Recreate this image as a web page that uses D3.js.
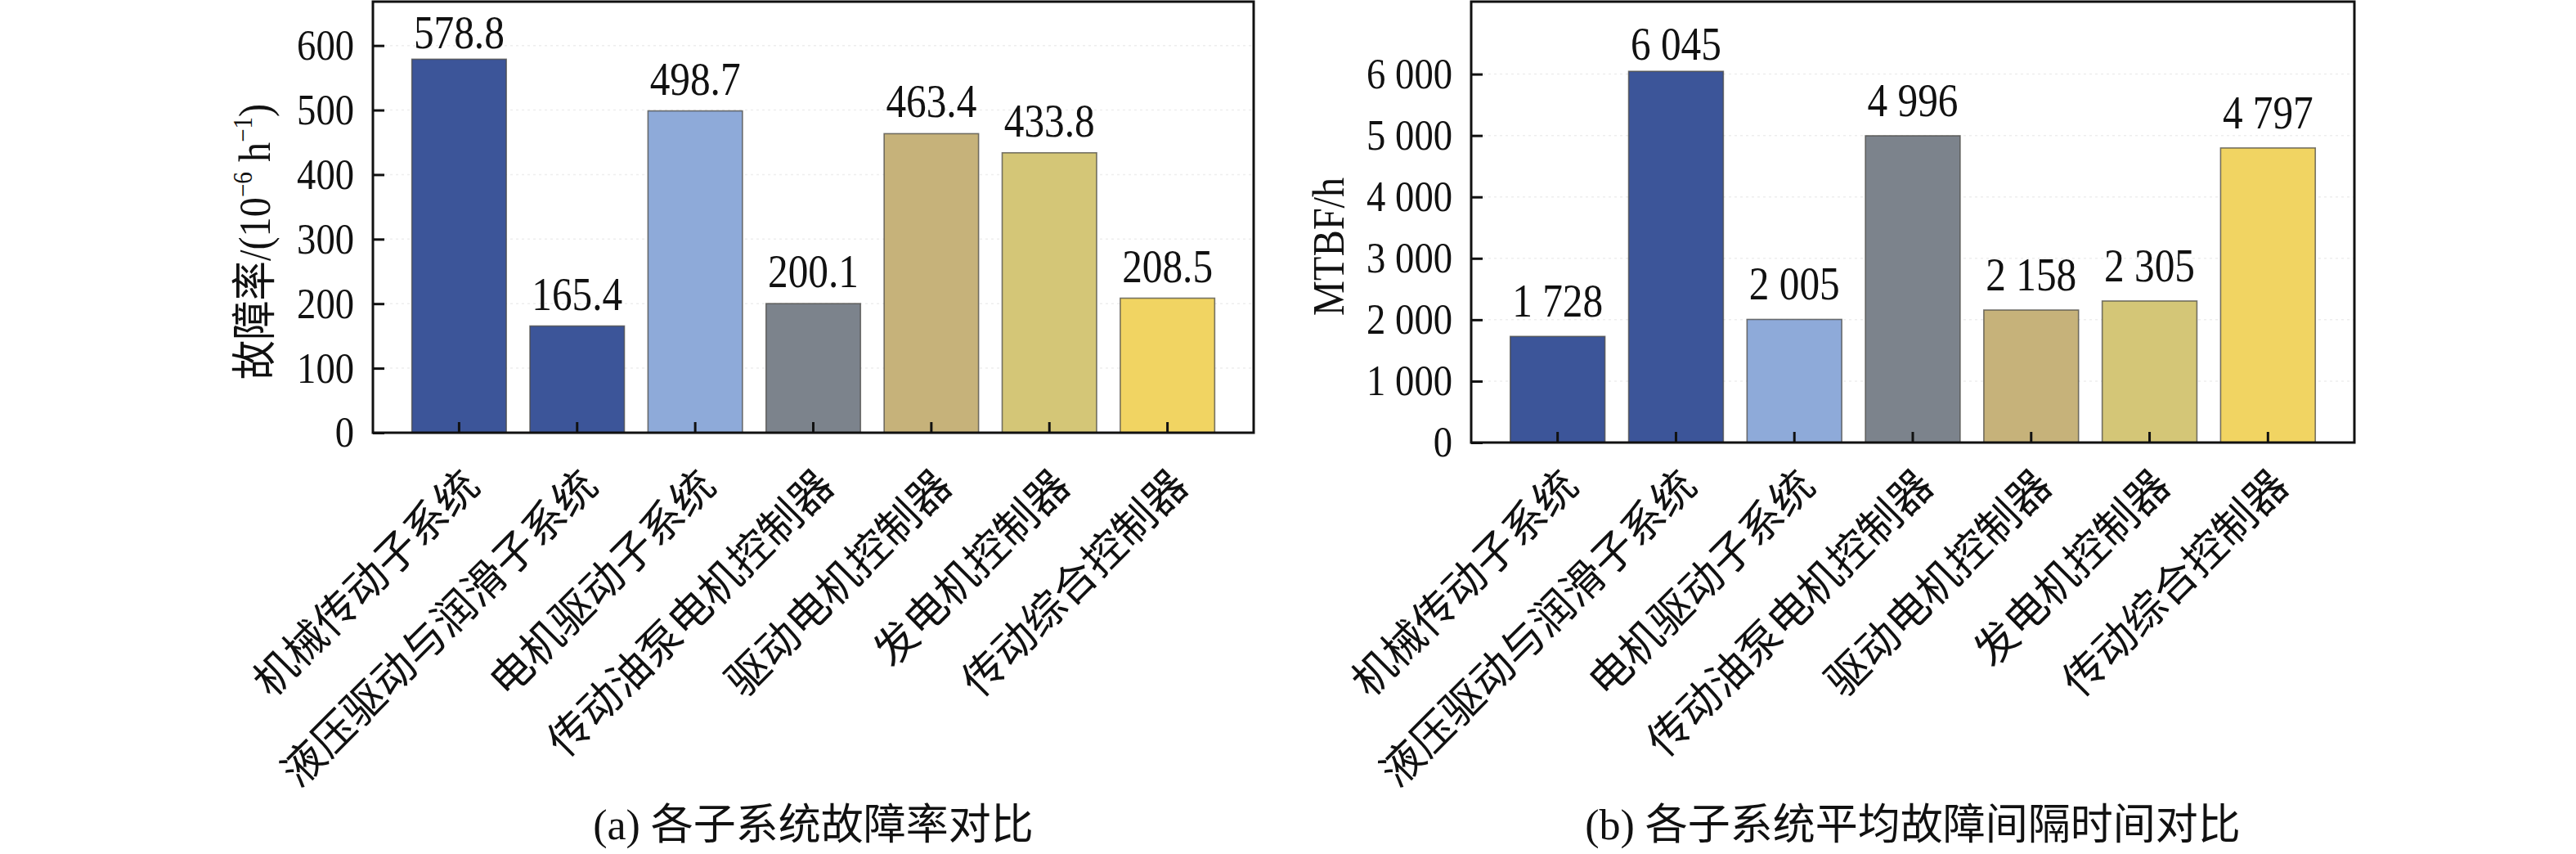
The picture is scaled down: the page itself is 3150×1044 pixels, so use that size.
<!DOCTYPE html>
<html>
<head>
<meta charset="utf-8">
<script src="https://cdn.jsdelivr.net/npm/d3@7/dist/d3.min.js"></script>
<style>
  html, body { margin: 0; padding: 0; background: #fff; }
  svg { display: block; font-family: "Liberation Serif", "Times New Roman", "Noto Sans CJK SC", serif; }
</style>
</head>
<body>
<svg id="chart" width="3150" height="1044"></svg>
<script>
// ---------------- data ----------------
const categories = ["机械传动子系统", "液压驱动与润滑子系统", "电机驱动子系统", "传动油泵电机控制器", "驱动电机控制器", "发电机控制器", "传动综合控制器"];
const failureRate = [578.8, 165.4, 498.7, 200.1, 463.4, 433.8, 208.5];
const mtbf = [1728, 6045, 2005, 4996, 2158, 2305, 4797];
const rateTicks = [0, 100, 200, 300, 400, 500, 600];
const mtbfTicks = [0, 1000, 2000, 3000, 4000, 5000, 6000];
const barColors = ["#3c5599", "#3c5599", "#8eaad9", "#7c838c", "#c6b27a", "#d4c677", "#f1d462"];
const captionA = ["(a) ", "各子系统故障率对比"];
const captionB = ["(b) ", "各子系统平均故障间隔时间对比"];

// ---------------- helpers ----------------
const svg = d3.select("#chart");
const spaceFmt = d3.formatLocale({ decimal: ".", thousands: " ", grouping: [3], currency: ["", ""] }).format(",");
const SX = 0.88; // horizontal condensing of numeric text (reference uses a narrow Times)

function drawPanel(opt) {
  const g = svg.append("g");
  const x = d3.scaleBand().domain(categories).range([opt.left, opt.right]).paddingInner(0.2).paddingOuter(0.33);
  const y = d3.scaleLinear().domain([0, opt.max]).range([opt.bottom, opt.top]);

  // faint gridlines
  g.append("g").selectAll("line").data(opt.ticks.slice(1)).join("line")
    .attr("x1", opt.left).attr("x2", opt.right)
    .attr("y1", d => y(d)).attr("y2", d => y(d))
    .attr("stroke", "#eeeeee").attr("stroke-width", 1.5).attr("stroke-dasharray", "3,4");

  // bars
  g.append("g").selectAll("rect").data(opt.values).join("rect")
    .attr("x", (d, i) => x(categories[i]))
    .attr("width", x.bandwidth())
    .attr("y", d => y(d))
    .attr("height", d => y(0) - y(d))
    .attr("fill", (d, i) => barColors[i])
    .attr("stroke", "#4b4a45").attr("stroke-opacity", 0.75).attr("stroke-width", 1.6);

  // value labels
  g.append("g").selectAll("text").data(opt.values).join("text")
    .attr("transform", (d, i) => `translate(${x(categories[i]) + x.bandwidth() / 2},${Math.max(y(d) - opt.gap, opt.minLabelY)}) scale(${SX},1)`)
    .attr("text-anchor", "middle")
    .attr("font-size", 56).attr("fill", "#111")
    .text(d => opt.fmt(d));

  // y axis
  const ya = d3.axisLeft(y).tickValues(opt.ticks).tickSize(-14).tickPadding(23 / SX).tickFormat(opt.tickFmt);
  const yg = g.append("g").attr("transform", `translate(${opt.left},0)`).call(ya);
  yg.select(".domain").remove();
  yg.selectAll(".tick line").attr("stroke", "#111").attr("stroke-width", 3);
  yg.selectAll(".tick text").attr("font-size", 53).attr("fill", "#111")
    .attr("transform", `scale(${SX},1)`)
    .attr("font-family", "Liberation Serif, Times New Roman, serif");

  // x axis ticks
  const xa = d3.axisBottom(x).tickSize(-13).tickFormat("");
  const xg = g.append("g").attr("transform", `translate(0,${opt.bottom})`).call(xa);
  xg.select(".domain").remove();
  xg.selectAll(".tick line").attr("stroke", "#111").attr("stroke-width", 3);

  // frame
  g.append("rect")
    .attr("x", opt.left).attr("y", opt.top)
    .attr("width", opt.right - opt.left).attr("height", opt.bottom - opt.top)
    .attr("fill", "none").attr("stroke", "#111").attr("stroke-width", 3);

  // x category labels (rotated)
  g.append("g").selectAll("text").data(categories).join("text")
    .attr("transform", d => `translate(${x(d) + x.bandwidth() / 2 + 28},${opt.labelY}) rotate(-45)`)
    .attr("text-anchor", "end")
    .attr("font-family", "Noto Sans CJK SC, sans-serif")
    .attr("font-size", 52).attr("fill", "#111")
    .text(d => d);

  // y axis title
  const yt = g.append("text")
    .attr("transform", `translate(${opt.left - opt.titleOffset},${(opt.top + opt.bottom) / 2 + 30}) rotate(-90) scale(${SX},1)`)
    .attr("text-anchor", "middle").attr("font-size", 55).attr("fill", "#111");
  opt.title(yt);

  // caption
  const cap = g.append("text")
    .attr("x", (opt.left + opt.right) / 2).attr("y", 1026)
    .attr("text-anchor", "middle").attr("font-size", 52).attr("fill", "#111");
  cap.append("tspan").attr("font-family", "Liberation Serif, serif").text(opt.caption[0]);
  cap.append("tspan").attr("font-family", "Noto Sans CJK SC, sans-serif").text(opt.caption[1]);
}

// ---------------- panel (a) ----------------
drawPanel({
  left: 456, right: 1533, top: 2, bottom: 529, max: 668,
  values: failureRate, ticks: rateTicks,
  fmt: d => d.toFixed(1), tickFmt: d => String(d),
  gap: 20, minLabelY: 59, labelY: 597, titleOffset: 126,
  caption: captionA,
  title: t => {
    t.append("tspan").attr("font-family", "Noto Sans CJK SC, sans-serif").text("故障率");
    t.append("tspan").text("/(10");
    t.append("tspan").attr("font-size", 33).attr("dy", -22).text("−6");
    t.append("tspan").attr("dy", 22).text(" h");
    t.append("tspan").attr("font-size", 33).attr("dy", -22).text("−1");
    t.append("tspan").attr("dy", 22).text(")");
  }
});

// ---------------- panel (b) ----------------
drawPanel({
  left: 1799, right: 2879, top: 2, bottom: 541, max: 7180,
  values: mtbf, ticks: mtbfTicks,
  fmt: d => spaceFmt(d), tickFmt: d => spaceFmt(d),
  gap: 24, minLabelY: 73, labelY: 597, titleOffset: 156,
  caption: captionB,
  title: t => { t.text("MTBF/h"); }
});
</script>
</body>
</html>
